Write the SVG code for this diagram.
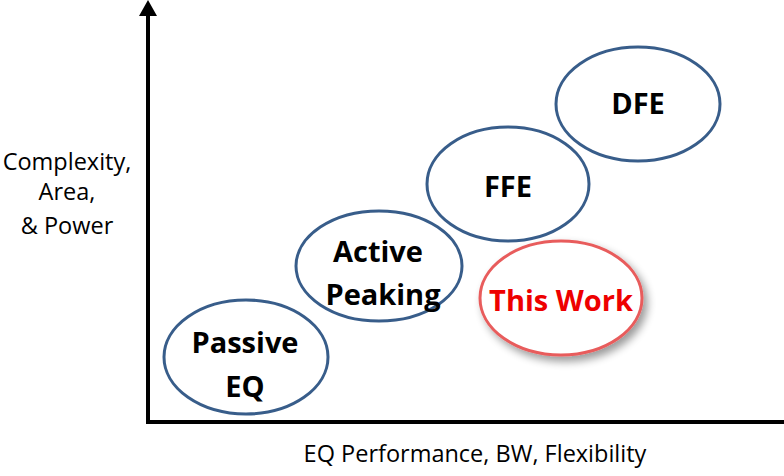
<svg xmlns="http://www.w3.org/2000/svg" width="784" height="476" viewBox="0 0 784 476">
<style>
.node ellipse{fill:#fff;stroke:#385d8a;stroke-width:3}
.lbl{font-family:"Open Sans","Liberation Sans",sans-serif;font-weight:bold;font-size:29px;fill:#000;text-anchor:middle}
.ax{font-family:"Open Sans","Liberation Sans",sans-serif;font-size:23.5px;fill:#000;text-anchor:middle}
</style>
<defs>
<filter id="sh" x="-20%" y="-20%" width="150%" height="150%">
<feGaussianBlur in="SourceAlpha" stdDeviation="4"/>
<feOffset dx="4" dy="5"/>
<feComponentTransfer><feFuncA type="linear" slope="0.4"/></feComponentTransfer>
<feMerge><feMergeNode/><feMergeNode in="SourceGraphic"/></feMerge>
</filter>
</defs>
<rect width="784" height="476" fill="#fff"/>
<g id="axes">
<line x1="148" y1="12" x2="148" y2="423" stroke="#000" stroke-width="4"/>
<polygon points="148,0 139,16 157,16" fill="#000"/>
<line x1="146" y1="422" x2="784" y2="422" stroke="#000" stroke-width="4"/>
</g>
<text class="ax" x="67" y="170">Complexity,</text>
<text class="ax" x="67" y="200">Area,</text>
<text class="ax" x="67" y="234">&amp; Power</text>
<text class="ax" x="475" y="462">EQ Performance, BW, Flexibility</text>
<g id="passive" class="node"><ellipse cx="246" cy="357" rx="82" ry="57"/>
<text class="lbl" x="245" y="353">Passive</text><text class="lbl" x="245" y="397">EQ</text></g>
<g id="active" class="node"><ellipse cx="379" cy="266" rx="83" ry="55"/>
<text class="lbl" x="378" y="262">Active</text><text class="lbl" x="383" y="305">Peaking</text></g>
<g id="ffe" class="node"><ellipse cx="508" cy="184" rx="81" ry="57"/>
<text class="lbl" x="508" y="197">FFE</text></g>
<g id="dfe" class="node"><ellipse cx="638" cy="104" rx="82" ry="57"/>
<text class="lbl" x="638" y="114">DFE</text></g>
<g id="thiswork" class="node"><ellipse cx="561" cy="298" rx="81" ry="57" style="stroke:#e85c5c" filter="url(#sh)"/>
<text class="lbl" x="561" y="311" style="fill:#ee0000">This Work</text></g>
</svg>
